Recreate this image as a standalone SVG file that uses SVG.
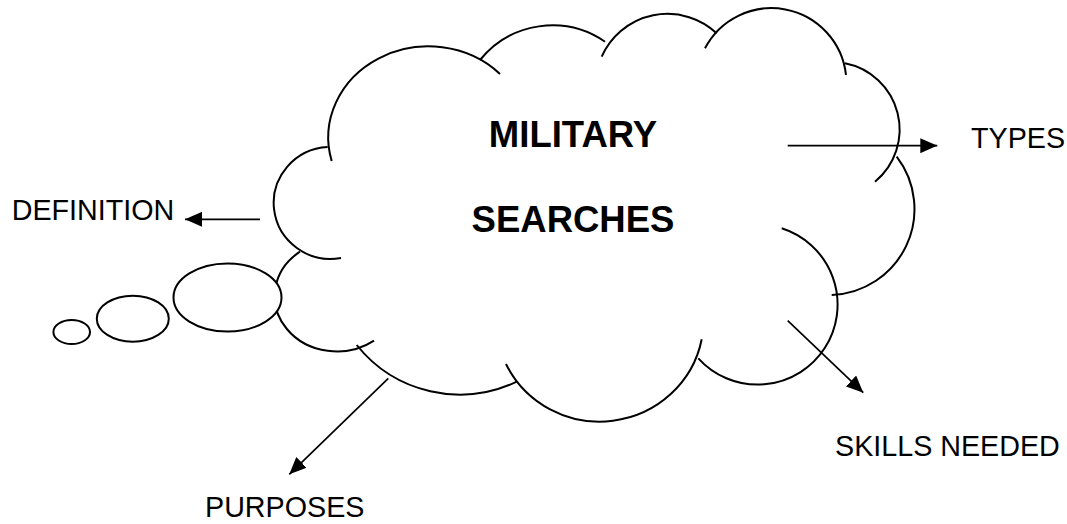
<svg xmlns="http://www.w3.org/2000/svg" width="1067" height="524" viewBox="0 0 1067 524">
  <style>
    .lobe { fill: none; stroke: #000; stroke-width: 2; }
    .bubble { fill: #fff; stroke: #000; stroke-width: 2; }
    .conn { fill: none; stroke: #000; stroke-width: 1.7; }
    .title { font-family: "Liberation Sans", Arial, sans-serif; font-weight: bold; font-size: 36.5px; fill: #000; text-anchor: middle; }
    .label { font-family: "Liberation Sans", Arial, sans-serif; font-size: 28.7px; fill: #000; }
  </style>
  <defs>
    <marker id="ah" markerUnits="userSpaceOnUse" markerWidth="17" markerHeight="15" viewBox="0 0 17 15" refX="17" refY="7.5" orient="auto">
      <path d="M0,0 L17,7.5 L0,15 z" fill="#000"/>
    </marker>
  </defs>
  <rect width="1067" height="524" fill="#fff"/>

  <g id="cloud">
    <path class="lobe" d="M327.7,147 A57,56 0 1 0 341,258"/>
    <path class="lobe" d="M300,251.7 A62,55 0 0 0 374,340.7"/>
    <path class="lobe" d="M356.7,345 A132,132 0 0 0 516.7,381.7"/>
    <path class="lobe" d="M506,364 A104,102 0 0 0 701.7,339.3"/>
    <path class="lobe" d="M781.7,228.3 A80,80 0 1 1 698.3,358.3"/>
    <path class="lobe" d="M896.7,156.7 A86,86 0 0 1 831.7,295"/>
    <path class="lobe" d="M845,63.3 A67.5,67.5 0 0 1 875,181.7"/>
    <path class="lobe" d="M705,48.3 A75,75 0 0 1 846,75"/>
    <path class="lobe" d="M601.7,56.7 A72,72 0 0 1 716.7,33.3"/>
    <path class="lobe" d="M480,60 A93,93 0 0 1 605,41.7"/>
    <path class="lobe" d="M331.7,161 A100,91 0 0 1 500,74"/>
    <text class="title" x="573" y="146.7">MILITARY</text>
    <text class="title" x="573" y="231.7">SEARCHES</text>
  </g>

  <g id="bubbles">
    <ellipse class="bubble" cx="227.5" cy="297.5" rx="54" ry="34"/>
    <ellipse class="bubble" cx="132.8" cy="318.7" rx="36" ry="23"/>
    <ellipse class="bubble" cx="71.7" cy="332" rx="18.3" ry="12"/>
  </g>

  <g id="connectors">
    <line class="conn" x1="260" y1="219.3" x2="185" y2="219.3" marker-end="url(#ah)"/>
    <line class="conn" x1="787.7" y1="145.7" x2="937.3" y2="145.7" marker-end="url(#ah)"/>
    <line class="conn" x1="787.7" y1="320.7" x2="863.3" y2="392.7" marker-end="url(#ah)"/>
    <line class="conn" x1="388.3" y1="378.3" x2="289.3" y2="474.3" marker-end="url(#ah)"/>
  </g>

  <g id="definition"><text class="label" x="11.7" y="220">DEFINITION</text></g>
  <g id="types"><text class="label" x="971" y="148.3">TYPES</text></g>
  <g id="skills-needed"><text class="label" x="835" y="455.7">SKILLS NEEDED</text></g>
  <g id="purposes"><text class="label" x="205" y="517">PURPOSES</text></g>
</svg>
